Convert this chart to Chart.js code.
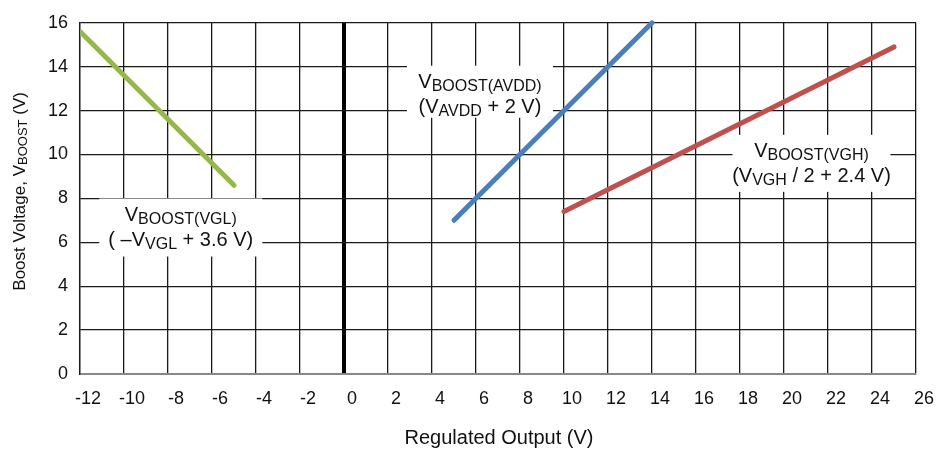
<!DOCTYPE html>
<html>
<head>
<meta charset="utf-8">
<script src="https://cdn.jsdelivr.net/npm/chart.js@4/dist/chart.umd.min.js"></script>
<style>
  html, body { margin: 0; padding: 0; background: #fff; }
  #wrap { width: 948px; height: 451px; }
</style>
</head>
<body>
<div id="wrap"><canvas id="c" width="948" height="451"></canvas></div>
<script>
// ---- data ----
const vglX  = [-12, -5];
const vglY  = [15.6, 8.6];
const avddX = [5, 14];
const avddY = [7, 16];
const vghX  = [10, 25];
const vghY  = [7.4, 14.9];

const xTicks = [-12, -10, -8, -6, -4, -2, 0, 2, 4, 6, 8, 10, 12, 14, 16, 18, 20, 22, 24, 26];
const yTicks = [0, 2, 4, 6, 8, 10, 12, 14, 16];

const xTitle = 'Regulated Output (V)';
const yTitleParts = [['Boost Voltage, V', false], ['BOOST', true], [' (V)', false]];

const noteAvdd = [[['V', false], ['BOOST(AVDD)', true]], [['(V', false], ['AVDD', true], [' + 2 V)', false]]];
const noteVgh  = [[['V', false], ['BOOST(VGH)', true]], [['(V', false], ['VGH', true], [' / 2 + 2.4 V)', false]]];
const noteVgl  = [[['V', false], ['BOOST(VGL)', true]], [['( \u2013V', false], ['VGL', true], [' + 3.6 V)', false]]];

function pts(xs, ys) { return xs.map((x, i) => ({ x: x, y: ys[i] })); }

const FONT = '"Liberation Sans", Arial, sans-serif';

function drawRich(ctx, parts, cx, baseline, mainSize, subSize, subShift) {
  let w = 0;
  const widths = parts.map(([t, sub]) => {
    ctx.font = (sub ? subSize : mainSize) + 'px ' + FONT;
    const m = ctx.measureText(t).width;
    w += m;
    return m;
  });
  let x = cx - w / 2;
  parts.forEach(([t, sub], i) => {
    ctx.font = (sub ? subSize : mainSize) + 'px ' + FONT;
    ctx.fillText(t, x, baseline + (sub ? subShift : 0));
    x += widths[i];
  });
}

const notes = [
  { lines: noteAvdd, x: 6.18,  y: 12.45, hw: 73,   top: 35, bottom: 17 },
  { lines: noteVgh,  x: 21.25, y: 9.30,  hw: 79,   top: 35, bottom: 22 },
  { lines: noteVgl,  x: -7.42, y: 6.40,  hw: 81.5, top: 35, bottom: 23 }
];

const annotPlugin = {
  id: 'annot',
  afterDatasetsDraw(chart) {
    const ctx = chart.ctx;
    const xs = chart.scales.x, ys = chart.scales.y;
    ctx.save();
    notes.forEach(n => {
      const cx = xs.getPixelForValue(n.x);
      const cy = ys.getPixelForValue(n.y);
      ctx.fillStyle = '#fff';
      ctx.fillRect(cx - n.hw, cy - n.top, n.hw * 2, n.top + n.bottom);
      ctx.fillStyle = '#111';
      ctx.textBaseline = 'alphabetic';
      ctx.textAlign = 'left';
      drawRich(ctx, n.lines[0], cx, cy - 12.5, 20, 16, 3);
      drawRich(ctx, n.lines[1], cx, cy + 12.5, 20, 16, 3);
    });
    ctx.restore();
  },
  afterDraw(chart) {
    const ctx = chart.ctx;
    const a = chart.chartArea;
    ctx.save();
    ctx.fillStyle = '#111';
    ctx.textAlign = 'center';
    ctx.textBaseline = 'middle';
    ctx.font = '20px ' + FONT;
    ctx.fillText(xTitle, (a.left + a.right) / 2 + 1, 438);
    ctx.translate(20, (a.top + a.bottom) / 2 - 7);
    ctx.rotate(-Math.PI / 2);
    ctx.textAlign = 'left';
    ctx.textBaseline = 'middle';
    drawRich(ctx, yTitleParts, 0, 0, 17, 13, 3);
    ctx.restore();
  }
};

const ds = (label, xs, ys, color, clip) => ({
  label: label,
  data: pts(xs, ys),
  borderColor: color,
  backgroundColor: color,
  borderWidth: 5,
  borderCapStyle: 'round',
  pointRadius: 0,
  tension: 0,
  fill: false,
  clip: clip
});

new Chart(document.getElementById('c'), {
  type: 'line',
  data: {
    datasets: [
      ds('VGL', vglX, vglY, '#94b94a', 0),
      ds('AVDD', avddX, avddY, '#4a7ebf', false),
      ds('VGH', vghX, vghY, '#c0504d', false)
    ]
  },
  options: {
    responsive: false,
    animation: false,
    devicePixelRatio: 1,
    layout: { padding: { top: 17, right: 32, bottom: 0, left: 0 } },
    plugins: { legend: { display: false }, tooltip: { enabled: false } },
    scales: {
      x: {
        type: 'linear',
        min: xTicks[0],
        max: xTicks[xTicks.length - 1],
        afterBuildTicks(scale) { scale.ticks = xTicks.map(v => ({ value: v })); },
        afterFit(scale) { scale.height = 77; },
        ticks: {
          color: '#111',
          font: { family: FONT, size: 18 },
          padding: 14,
          labelOffset: 8,
          maxRotation: 0,
          autoSkip: false
        },
        grid: {
          drawTicks: false,
          color: c => c.tick && c.tick.value === 0 ? '#000' : '#1a1a1a',
          lineWidth: c => c.tick && c.tick.value === 0 ? 4 : 1.3
        },
        border: { display: true, color: '#888', width: 2 }
      },
      y: {
        type: 'linear',
        min: yTicks[0],
        max: yTicks[yTicks.length - 1],
        afterBuildTicks(scale) { scale.ticks = yTicks.map(v => ({ value: v })); },
        afterFit(scale) { scale.width = 80; },
        ticks: {
          color: '#111',
          font: { family: FONT, size: 18 },
          padding: 12,
          autoSkip: false
        },
        grid: {
          drawTicks: false,
          color: c => c.tick && c.tick.value === 0 ? '#888' : '#1a1a1a',
          lineWidth: c => c.tick && c.tick.value === 0 ? 2 : 1.3
        },
        border: { display: true, color: '#1a1a1a', width: 1.3 }
      }
    }
  },
  plugins: [annotPlugin]
});
</script>
</body>
</html>
